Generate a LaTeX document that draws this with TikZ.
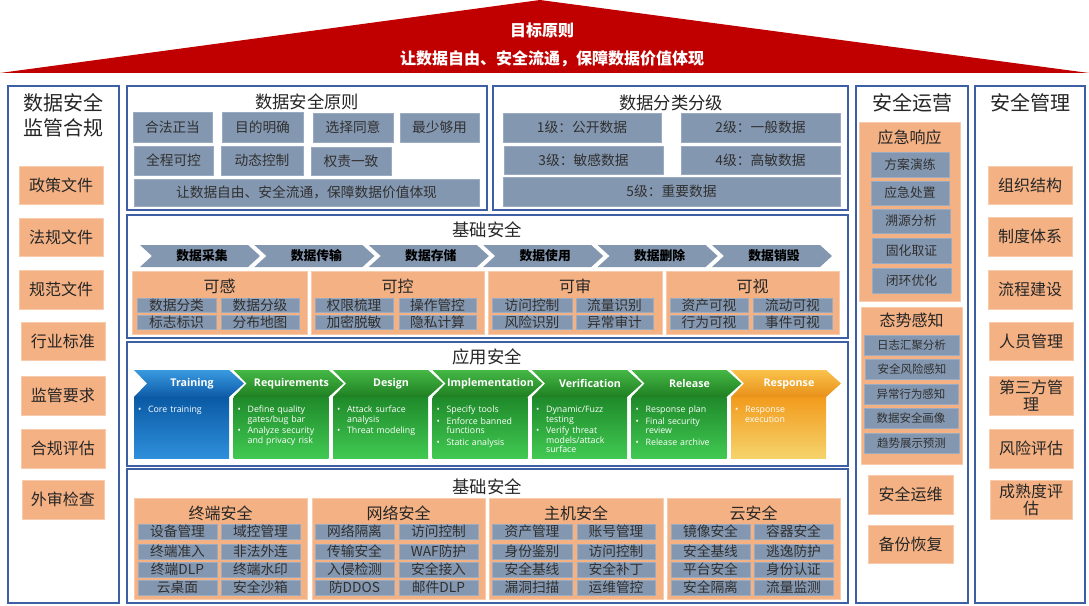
\documentclass[tikz,border=0pt]{standalone}
\usepackage{fontspec}
\setmainfont{Noto Sans CJK SC}
\newfontfamily\enfont{Open Sans}
\definecolor{roofc}{HTML}{C00000}
\definecolor{framec}{HTML}{3D5FA3}
\definecolor{orangec}{HTML}{F4B183}
\definecolor{orangeb}{HTML}{F8CBAD}
\definecolor{grayc}{HTML}{8497B0}
\definecolor{grayb}{HTML}{9AABC2}
\definecolor{txtc}{HTML}{262626}
\definecolor{itc}{HTML}{303030}
\definecolor{tbh1}{HTML}{3A9AE0}\definecolor{tbh2}{HTML}{0D5BA8}
\definecolor{tbb1}{HTML}{0A5AA5}\definecolor{tbb2}{HTML}{2F8FDB}
\definecolor{gh1}{HTML}{45B845}\definecolor{gh2}{HTML}{1F7F22}
\definecolor{gb1}{HTML}{1F8A2A}\definecolor{gb2}{HTML}{41C952}
\definecolor{oh1}{HTML}{F9C24A}\definecolor{oh2}{HTML}{E8901A}
\definecolor{ob1}{HTML}{F29B1D}\definecolor{ob2}{HTML}{F5D36B}
\tikzset{
  base/.style={inner sep=0pt, outer sep=0pt, align=center, text=txtc},
  frame/.style={base, draw=framec, line width=1.3pt, fill=white},
  org/.style={base, fill=orangec, draw=orangeb, line width=0.6pt},
  gry/.style={base, fill=grayc, draw=grayb, line width=0.5pt, text=itc},
  tA/.style={font=\fontsize{15pt}{18.75pt}\selectfont},
  tB/.style={font=\fontsize{13pt}{15pt}\selectfont},
  tC/.style={font=\fontsize{12pt}{12.75pt}\selectfont},
  tD/.style={font=\fontsize{10.3pt}{12pt}\selectfont},
  tE/.style={font=\fontsize{9.6pt}{11pt}\selectfont},
  tF/.style={font=\fontsize{8.6pt}{10pt}\selectfont},
  rooftxt/.style={base, text=white, font=\fontsize{12pt}{14pt}\selectfont\bfseries},
  chevtxt/.style={base, text=black, font=\fontsize{9.6pt}{11pt}\selectfont\bfseries},
  hdtxt/.style={base, text=white, font=\enfont\fontsize{8pt}{9pt}\selectfont\bfseries},
  bodytxt/.style={base, text=white, anchor=north west, align=left, text width=62pt,
    font=\enfont\fontsize{6.6pt}{7pt}\selectfont},
}
\newcommand\bx[7]{\node[#6, minimum width={(#4-#2)*0.75pt}, minimum height={(#5-#3)*0.75pt}] (#1) at ({(#2+#4)/2},{(#3+#5)/2}) {#7};}
\newcommand\dchev[3]{%
  \fill[grayc] (#2,245) -- ({#2+108},245) -- ({#2+120},256) -- ({#2+108},267) -- (#2,267) -- ({#2+12},256) -- cycle;
  \node[chevtxt] (#1) at ({#2+62},256) {#3};}
\newcommand\achev[8]{%
  \shade[top color=#5,bottom color=#6] (#2,397) rectangle ({#2+95},458);
  \shade[top color=#3,bottom color=#4] (#2,370) -- ({#2+95},370) -- ({#2+110},383.5) -- ({#2+95},397) -- (#2,397) -- ({#2+13},383.5) -- cycle;
  \node[hdtxt] (#1-h) at ({#2+58},383.5) {#7};
  \node[bodytxt] (#1-b) at ({#2+4},401) {\hyphenpenalty=10000\exhyphenpenalty=10000\setlength\parskip{1.8pt}#8\par};}
\newcommand\itm[1]{\par\hangindent=1.15em\hangafter=1\noindent\makebox[1.15em][l]{•}#1}
\begin{document}
\begin{tikzpicture}[x=0.75pt,y=-0.75pt]
\useasboundingbox (0,0) rectangle (1089,606);
% roof
\coordinate (rl) at (0,73); \coordinate (ra) at (540,0); \coordinate (rr) at (1089,73);
\fill[roofc] (rl) -- (ra) -- (rr) -- cycle;
\node[rooftxt] (goal) at (542,30) {目标原则};
\node[rooftxt] (goal2) at (552,59) {让数据自由、安全流通，保障数据价值体现};
% frames
\bx{fl}{8}{86}{119}{603}{frame}{}
\bx{fp}{127}{86}{487}{210}{frame}{}
\bx{fc}{493}{86}{848}{210}{frame}{}
\bx{fd}{127}{215}{848}{338}{frame}{}
\bx{fa}{127}{342}{848}{466}{frame}{}
\bx{fb}{127}{469}{848}{603}{frame}{}
\bx{fo}{856}{86}{968}{603}{frame}{}
\bx{fm}{975}{86}{1085}{603}{frame}{}
% left column
\node[base,tA] (tl) at (63.5,115.5) {数据安全\\监管合规};
\bx{l1}{19}{166}{103}{204}{org,tC}{政策文件}
\bx{l2}{19}{218}{103}{256}{org,tC}{法规文件}
\bx{l3}{19}{270}{103}{309}{org,tC}{规范文件}
\bx{l4}{21}{322}{105}{360}{org,tC}{行业标准}
\bx{l5}{21}{376}{105}{415}{org,tC}{监管要求}
\bx{l6}{21}{429}{105}{468}{org,tC}{合规评估}
\bx{l7}{22}{480}{104}{519}{org,tC}{外审检查}
% principles
\node[base,tB] (tp) at (307,102) {数据安全原则};
\bx{p1}{133}{112}{212}{142}{gry,tD}{合法正当}
\bx{p2}{222}{112}{303}{142}{gry,tD}{目的明确}
\bx{p3}{313}{113}{393}{142}{gry,tD}{选择同意}
\bx{p4}{400}{113}{479}{142}{gry,tD}{最少够用}
\bx{p5}{134}{146}{213}{175}{gry,tD}{全程可控}
\bx{p6}{221}{146}{303}{175}{gry,tD}{动态控制}
\bx{p7}{311}{147}{391}{175}{gry,tD}{权责一致}
\bx{p8}{134}{179}{479}{206}{gry,tD}{让数据自由、安全流通，保障数据价值体现}
% classification
\node[base,tB] (tc) at (671,103) {数据分类分级};
\bx{c1}{503}{113}{661}{142}{gry,tD}{1级：公开数据}
\bx{c2}{681}{113}{840}{142}{gry,tD}{2级：一般数据}
\bx{c3}{504}{146}{663}{174}{gry,tD}{3级：敏感数据}
\bx{c4}{681}{146}{840}{174}{gry,tD}{4级：高敏数据}
\bx{c5}{503}{177}{840}{206}{gry,tD}{5级：重要数据}
% data lifecycle
\node[base,tB] (td) at (487,230) {基础安全};
\dchev{d1}{140}{数据采集}
\dchev{d2}{254.4}{数据传输}
\dchev{d3}{368.8}{数据存储}
\dchev{d4}{483.2}{数据使用}
\dchev{d5}{597.6}{数据删除}
\dchev{d6}{712}{数据销毁}
\bx{g1}{132}{271}{307}{334}{org}{}
\node[base,tC] (g1t) at (219.5,286) {可感};
\bx{g1a}{137}{298}{216}{312}{gry,tD}{数据分类}
\bx{g1b}{221}{298}{299}{312}{gry,tD}{数据分级}
\bx{g1c}{137}{315}{216}{329}{gry,tD}{标志标识}
\bx{g1d}{221}{315}{299}{329}{gry,tD}{分布地图}
\bx{g2}{311}{271}{484}{334}{org}{}
\node[base,tC] (g2t) at (397.5,286) {可控};
\bx{g2a}{315}{298}{393}{312}{gry,tD}{权限梳理}
\bx{g2b}{399}{298}{476}{312}{gry,tD}{操作管控}
\bx{g2c}{315}{315}{393}{329}{gry,tD}{加密脱敏}
\bx{g2d}{399}{315}{476}{329}{gry,tD}{隐私计算}
\bx{g3}{488}{271}{662}{334}{org}{}
\node[base,tC] (g3t) at (575,286) {可审};
\bx{g3a}{492}{298}{572}{312}{gry,tD}{访问控制}
\bx{g3b}{576}{298}{653}{312}{gry,tD}{流量识别}
\bx{g3c}{492}{315}{572}{329}{gry,tD}{风险识别}
\bx{g3d}{576}{315}{653}{329}{gry,tD}{异常审计}
\bx{g4}{666}{271}{839}{334}{org}{}
\node[base,tC] (g4t) at (752.5,286) {可视};
\bx{g4a}{670}{298}{748}{312}{gry,tD}{资产可视}
\bx{g4b}{753}{298}{832}{312}{gry,tD}{流动可视}
\bx{g4c}{670}{315}{748}{329}{gry,tD}{行为可视}
\bx{g4d}{753}{315}{832}{329}{gry,tD}{事件可视}
% application security
\node[base,tB] (ta) at (487,357) {应用安全};
\achev{a1}{134}{tbh1}{tbh2}{tbb1}{tbb2}{Training}{\itm{Core training}}
\achev{a2}{233.5}{gh1}{gh2}{gb1}{gb2}{Requirements}{\itm{Define quality gates/bug bar}\itm{Analyze security and privacy risk}}
\achev{a3}{333}{gh1}{gh2}{gb1}{gb2}{Design}{\itm{Attack surface analysis}\itm{Threat modeling}}
\achev{a4}{432.5}{gh1}{gh2}{gb1}{gb2}{Implementation}{\itm{Specify tools}\itm{Enforce banned functions}\itm{Static analysis}}
\achev{a5}{532}{gh1}{gh2}{gb1}{gb2}{Verification}{\itm{Dynamic/Fuzz testing}\itm{Verify threat models/attack surface}}
\achev{a6}{631.5}{gh1}{gh2}{gb1}{gb2}{Release}{\itm{Response plan}\itm{Final security review}\itm{Release archive}}
\achev{a7}{731}{oh1}{oh2}{ob1}{ob2}{Response}{\itm{Response execution}}
% infrastructure security
\node[base,tB] (tb) at (487,487) {基础安全};
\bx{h1}{134}{498}{307}{599}{org}{}
\node[base,tC] (h1t) at (220.5,513) {终端安全};
\bx{h1a}{138}{524}{217}{539}{gry,tD}{设备管理}
\bx{h1b}{221}{524}{300}{539}{gry,tD}{域控管理}
\bx{h1c}{138}{544}{217}{559}{gry,tD}{终端准入}
\bx{h1d}{221}{544}{300}{559}{gry,tD}{非法外连}
\bx{h1e}{138}{562}{217}{577}{gry,tD}{终端DLP}
\bx{h1f}{221}{562}{300}{577}{gry,tD}{终端水印}
\bx{h1g}{138}{580}{217}{595}{gry,tD}{云桌面}
\bx{h1h}{221}{580}{300}{595}{gry,tD}{安全沙箱}
\bx{h2}{312}{498}{485}{599}{org}{}
\node[base,tC] (h2t) at (398.5,513) {网络安全};
\bx{h2a}{315}{524}{394}{539}{gry,tD}{网络隔离}
\bx{h2b}{399}{524}{478}{539}{gry,tD}{访问控制}
\bx{h2c}{315}{544}{394}{559}{gry,tD}{传输安全}
\bx{h2d}{399}{544}{478}{559}{gry,tD}{WAF防护}
\bx{h2e}{315}{562}{394}{577}{gry,tD}{入侵检测}
\bx{h2f}{399}{562}{478}{577}{gry,tD}{安全接入}
\bx{h2g}{315}{580}{394}{595}{gry,tD}{防DDOS}
\bx{h2h}{399}{580}{478}{595}{gry,tD}{邮件DLP}
\bx{h3}{489}{498}{663}{599}{org}{}
\node[base,tC] (h3t) at (576,513) {主机安全};
\bx{h3a}{492}{524}{572}{539}{gry,tD}{资产管理}
\bx{h3b}{577}{524}{655}{539}{gry,tD}{账号管理}
\bx{h3c}{492}{544}{572}{559}{gry,tD}{身份鉴别}
\bx{h3d}{577}{544}{655}{559}{gry,tD}{访问控制}
\bx{h3e}{492}{562}{572}{577}{gry,tD}{安全基线}
\bx{h3f}{577}{562}{655}{577}{gry,tD}{安全补丁}
\bx{h3g}{492}{580}{572}{595}{gry,tD}{漏洞扫描}
\bx{h3h}{577}{580}{655}{595}{gry,tD}{运维管控}
\bx{h4}{667}{498}{840}{599}{org}{}
\node[base,tC] (h4t) at (753.5,513) {云安全};
\bx{h4a}{671}{524}{750}{539}{gry,tD}{镜像安全}
\bx{h4b}{754}{524}{833}{539}{gry,tD}{容器安全}
\bx{h4c}{671}{544}{750}{559}{gry,tD}{安全基线}
\bx{h4d}{754}{544}{833}{559}{gry,tD}{逃逸防护}
\bx{h4e}{671}{562}{750}{577}{gry,tD}{平台安全}
\bx{h4f}{754}{562}{833}{577}{gry,tD}{身份认证}
\bx{h4g}{671}{580}{750}{595}{gry,tD}{安全隔离}
\bx{h4h}{754}{580}{833}{595}{gry,tD}{流量监测}
% security operations
\node[base,tA] (to) at (912,103) {安全运营};
\bx{o1}{859}{122}{960}{301}{org}{}
\node[base,tC] (o1t) at (909.5,137) {应急响应};
\bx{o1a}{871}{152}{949}{177}{gry,tE}{方案演练}
\bx{o1b}{871}{181}{949}{205}{gry,tE}{应急处置}
\bx{o1c}{872}{209}{950}{233}{gry,tE}{溯源分析}
\bx{o1d}{872}{238}{951}{263}{gry,tE}{固化取证}
\bx{o1e}{872}{268}{951}{293}{gry,tE}{闭环优化}
\bx{o2}{861}{307}{962}{464}{org}{}
\node[base,tC] (o2t) at (911.5,320) {态势感知};
\bx{o2a}{864}{335}{959}{355}{gry,tF}{日志汇聚分析}
\bx{o2b}{865}{359}{959}{379}{gry,tF}{安全风险感知}
\bx{o2c}{864}{384}{958}{404}{gry,tF}{异常行为感知}
\bx{o2d}{864}{408}{958}{428}{gry,tF}{数据安全画像}
\bx{o2e}{864}{433}{959}{453}{gry,tF}{趋势展示预测}
\bx{o3}{868}{475}{953}{514}{org,tC}{安全运维}
\bx{o4}{868}{525}{953}{563}{org,tC}{备份恢复}
% security management
\node[base,tA] (tm) at (1030,103) {安全管理};
\bx{m1}{988}{166}{1072}{204}{org,tC}{组织结构}
\bx{m2}{988}{217}{1072}{256}{org,tC}{制度体系}
\bx{m3}{988}{270}{1072}{309}{org,tC}{流程建设}
\bx{m4}{989}{322}{1073}{360}{org,tC}{人员管理}
\bx{m5}{989}{376}{1073}{415}{org,tC}{第三方管\\理}
\bx{m6}{989}{429}{1073}{468}{org,tC}{风险评估}
\bx{m7}{990}{480}{1072}{519}{org,tC}{成熟度评\\估}
\end{tikzpicture}
\end{document}
